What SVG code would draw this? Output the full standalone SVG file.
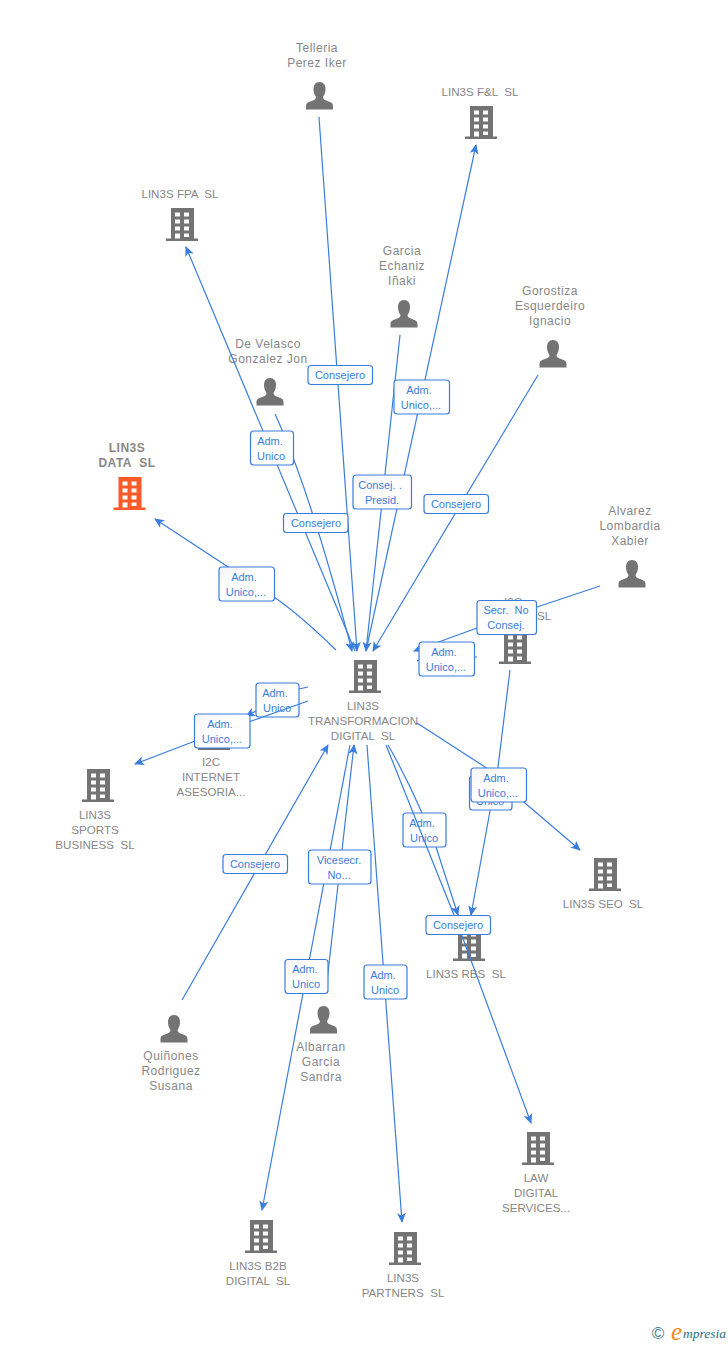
<svg xmlns="http://www.w3.org/2000/svg" width="728" height="1345" viewBox="0 0 728 1345">
<style>
text{font-family:"Liberation Sans",Arial,sans-serif;white-space:pre}
.n{font-size:12px;fill:#878787;text-anchor:middle;letter-spacing:.5px}
.u{font-size:11.600px;fill:#878787;text-anchor:middle}
.nb{font-size:12px;fill:#878787;text-anchor:middle;font-weight:bold;letter-spacing:.5px}
.c{fill:none;stroke:#3b7ddd;stroke-width:1.2;marker-end:url(#a)}
.c0{fill:none;stroke:#3b7ddd;stroke-width:1.2}
.lb rect{fill:url(#g);stroke:#3b7ddd;stroke-width:1.2}
.lb text{font-size:11px;fill:#3b7ddd;text-anchor:middle}
</style>
<defs>
<linearGradient id="g" x1="0" y1="0" x2="1" y2="1"><stop offset="0" stop-color="#f4f4f4"/><stop offset=".4" stop-color="#fff"/></linearGradient>
<marker id="a" viewBox="0 0 10 10" refX="9" refY="5" markerWidth="10" markerHeight="10" orient="auto" markerUnits="userSpaceOnUse"><path d="M0,0.5 L10,5 L0,9.500 L2.500,5 Z" fill="#3b7ddd"/></marker>
<symbol id="b" viewBox="0 0 32 34" width="32" height="34" overflow="visible">
<path fill="currentColor" fill-rule="evenodd" d="M5,0H28V30.500H32V33H0V30.500H5ZM9,4.500V8.500H14V4.500ZM18,4.500V8.500H23V4.500ZM9,11.500V15.500H14V11.500ZM18,11.500V15.500H23V11.500ZM9,18.500V22.500H14V18.500ZM18,18.500V22.500H23V18.500ZM9,25.500V30.500H14V25.500ZM18,25.500V29H23V25.500Z"/>
</symbol>
<symbol id="p" viewBox="0 0 28 28" width="28" height="28" overflow="visible">
<path fill="#737373" d="M14,0C10,0 8,3 8,7C8,10 9,13 10.500,15C10.500,17 9,18 6,19C3,20 .5,21 .5,24V27.500H27.500V24C27.500,21 25,20 22,19C19,18 17.500,17 17.500,15C19,13 20,10 20,7C20,3 18,0 14,0Z"/>
</symbol>
</defs>
<g id="n-telleria" color="#737373"><use href="#p" x="305.500" y="82"/><text class="n" x="317" y="52">Telleria</text><text class="n" x="317" y="67">Perez Iker</text></g>
<g id="n-fl" color="#737373"><use href="#b" x="465" y="106"/><text class="u" x="480" y="96">LIN3S F&amp;L  SL</text></g>
<g id="n-fpa" color="#737373"><use href="#b" x="166" y="208"/><text class="u" x="180" y="198">LIN3S FPA  SL</text></g>
<g id="n-garcia"><use href="#p" x="390" y="300"/><text class="n" x="402" y="255">Garcia</text><text class="n" x="402" y="270">Echaniz</text><text class="n" x="402" y="285">Iñaki</text></g>
<g id="n-gorostiza"><use href="#p" x="539" y="340"/><text class="n" x="550" y="295">Gorostiza</text><text class="n" x="550" y="310">Esquerdeiro</text><text class="n" x="550" y="325">Ignacio</text></g>
<g id="n-velasco"><use href="#p" x="256" y="378"/><text class="n" x="268" y="348">De Velasco</text><text class="n" x="268" y="363">Gonzalez Jon</text></g>
<g id="n-data" color="#fa5a28"><use href="#b" x="113.500" y="477"/><text class="nb" x="127" y="452">LIN3S</text><text class="nb" x="127" y="467">DATA  SL</text></g>
<g id="n-alvarez"><use href="#p" x="618" y="560"/><text class="n" x="630" y="515">Alvarez</text><text class="n" x="630" y="530">Lombardia</text><text class="n" x="630" y="545">Xabier</text></g>
<g id="n-i2c" color="#737373"><use href="#b" x="499" y="631"/><text class="u" x="513" y="606">I2C</text><text class="u" x="544" y="620">SL</text></g>
<g id="n-central" color="#737373"><use href="#b" x="349" y="660"/><text class="u" x="363" y="710">LIN3S</text><text class="u" x="363" y="725">TRANSFORMACION</text><text class="u" x="363" y="740">DIGITAL  SL</text></g>
<g id="n-internet" color="#737373"><use href="#b" x="198" y="717"/><text class="u" x="211" y="766">I2C</text><text class="u" x="211" y="781">INTERNET</text><text class="u" x="211" y="796">ASESORIA...</text></g>
<g id="n-sports" color="#737373"><use href="#b" x="82" y="769"/><text class="u" x="95" y="819">LIN3S</text><text class="u" x="95" y="834">SPORTS</text><text class="u" x="95" y="849">BUSINESS  SL</text></g>
<g id="n-seo" color="#737373"><use href="#b" x="589" y="858"/><text class="u" x="603" y="908">LIN3S SEO  SL</text></g>
<g id="n-rbs" color="#737373"><use href="#b" x="453" y="928"/><text class="u" x="466" y="978">LIN3S RBS  SL</text></g>
<g id="n-quinones"><use href="#p" x="160" y="1015"/><text class="n" x="171" y="1060">Quiñones</text><text class="n" x="171" y="1075">Rodriguez</text><text class="n" x="171" y="1090">Susana</text></g>
<g id="n-albarran"><use href="#p" x="309.500" y="1006"/><text class="n" x="321" y="1051">Albarran</text><text class="n" x="321" y="1066">Garcia</text><text class="n" x="321" y="1081">Sandra</text></g>
<g id="n-law" color="#737373"><use href="#b" x="522" y="1132"/><text class="u" x="536" y="1182">LAW</text><text class="u" x="536" y="1197">DIGITAL</text><text class="u" x="536" y="1212">SERVICES...</text></g>
<g id="n-b2b" color="#737373"><use href="#b" x="245" y="1220"/><text class="u" x="258" y="1270">LIN3S B2B</text><text class="u" x="258" y="1285">DIGITAL  SL</text></g>
<g id="n-partners" color="#737373"><use href="#b" x="389" y="1232"/><text class="u" x="403" y="1282">LIN3S</text><text class="u" x="403" y="1297">PARTNERS  SL</text></g>
<g id="labels-under" class="lb">
<rect x="256" y="683" width="43" height="34" rx="3"/><text x="275" y="696.500">Adm.</text><text x="277" y="711.500">Unico</text>
<rect x="403" y="813" width="43" height="34" rx="3"/><text x="422" y="826.500">Adm.</text><text x="424" y="841.500">Unico</text>
</g>
<g id="connectors">
<path class="c" d="M319,117L357,651"/>
<path class="c" d="M366,651L476,145"/>
<path class="c" d="M355,651L186,247"/>
<path class="c" d="M275,414Q310,490 352,651"/>
<path class="c" d="M400,335L366,651"/>
<path class="c" d="M538,375L373,651"/>
<path class="c" d="M336,650Q300,615 274,597L155,519"/>
<path class="c" d="M600,586L537,607M477,628L414,651"/>
<path class="c0" d="M477,657L475,657M419,660L417,661"/>
<path class="c" d="M417,723L485,767L525,803L580,850"/>
<path class="c" d="M510,670L497,775L490,811L471,915"/>
<path class="c0" d="M388,745Q407,778 422,813"/>
<path class="c" d="M436,847L458,915"/>
<path class="c" d="M386,745L458,925L531,1123"/>
<path class="c" d="M367,745L402,1222"/>
<path class="c" d="M350,745L262,1210"/>
<path class="c" d="M326,990L354,745"/>
<path class="c" d="M182,1000L328,745"/>
<path class="c0" d="M308,687L299,689"/>
<path class="c" d="M256,711L246,716"/>
<path class="c" d="M308,701L195,741L135,764"/>
</g>
<g id="labels" class="lb">
<rect x="308" y="365.500" width="64.500" height="19" rx="3"/><text x="340" y="378.500">Consejero</text>
<rect x="394" y="380" width="55.500" height="34" rx="3"/><text x="419" y="393.500">Adm.</text><text x="421" y="408.500">Unico,...</text>
<rect x="250.500" y="431" width="43" height="34" rx="3"/><text x="270" y="444.500">Adm.</text><text x="271" y="459.500">Unico</text>
<rect x="353" y="475" width="58.500" height="34" rx="3"/><text x="380" y="488.500">Consej. .</text><text x="382" y="503.500">Presid.</text>
<rect x="424" y="494.500" width="64.500" height="19" rx="3"/><text x="456" y="507.500">Consejero</text>
<rect x="283.500" y="513.500" width="64.500" height="19" rx="3"/><text x="316" y="526.500">Consejero</text>
<rect x="219" y="567" width="55.500" height="34" rx="3"/><text x="244" y="580.500">Adm.</text><text x="246" y="595.500">Unico,...</text>
<rect x="419" y="642" width="55.500" height="34" rx="3"/><text x="444" y="655.500">Adm.</text><text x="446" y="670.500">Unico,...</text>
<rect x="477" y="600.500" width="59.500" height="34" rx="3"/><text x="506" y="613.500">Secr.  No</text><text x="506" y="628.500">Consej.</text>
<rect x="194.500" y="714" width="55.500" height="34" rx="3"/><text x="220" y="727.500">Adm.</text><text x="222" y="742.500">Unico,...</text>
<rect x="469.500" y="776" width="42.500" height="34" rx="3"/><text x="490" y="804.500">Unico</text>
<rect x="471" y="768" width="55.500" height="34" rx="3"/><text x="496" y="781.500">Adm.</text><text x="498" y="796.500">Unico,...</text>
<rect x="223" y="854.500" width="64.500" height="19" rx="3"/><text x="255" y="867.500">Consejero</text>
<rect x="308.500" y="850" width="62.500" height="34" rx="3"/><text x="339" y="863.500">Vicesecr.</text><text x="339" y="878.500">No...</text>
<rect x="426" y="915.500" width="64.500" height="19" rx="3"/><text x="458" y="928.500">Consejero</text>
<rect x="285" y="959.500" width="43" height="34" rx="3"/><text x="305" y="972.500">Adm.</text><text x="306" y="987.500">Unico</text>
<rect x="364" y="965" width="43" height="34" rx="3"/><text x="383" y="978.500">Adm.</text><text x="385" y="993.500">Unico</text>
</g>
<g id="logo">
<text x="658" y="1339" font-size="17" fill="#3f7d94" text-anchor="middle">©</text>
<text x="671" y="1340" font-size="25" fill="#f08a24" font-style="italic" style="font-family:'Liberation Serif',serif">e</text>
<text x="683" y="1338" font-size="13.500" fill="#2a6f80" font-style="italic" style="font-family:'Liberation Serif',serif">mpresia</text>
</g>
</svg>
